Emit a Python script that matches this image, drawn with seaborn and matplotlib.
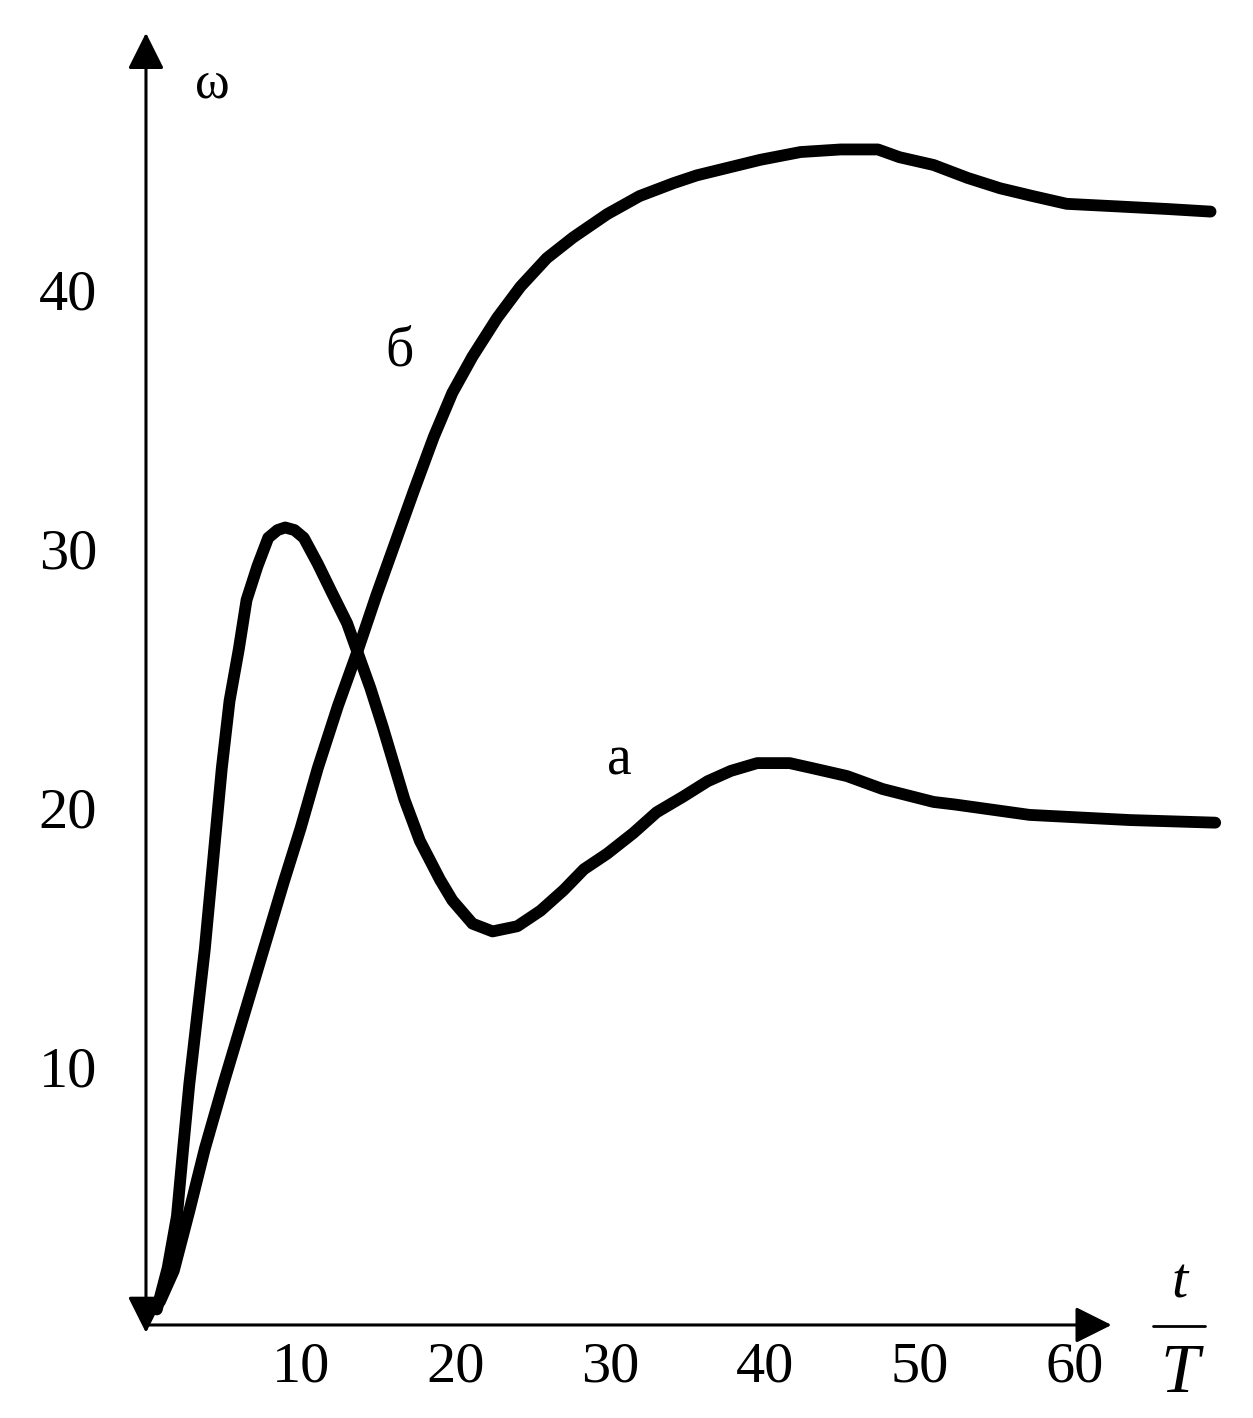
import numpy as np
import pandas as pd
import matplotlib.pyplot as plt
import seaborn as sns
from matplotlib.lines import Line2D

# curve "а" (oscillating)
t_a = [0.7, 1.4, 2.0, 2.4, 2.8, 3.3, 3.8, 4.9, 5.4, 6.0, 6.5, 7.2, 7.9, 8.5, 9.0, 9.6,
       10.2, 11.1, 12.0, 13.0, 13.6, 14.5, 15.3, 16.2, 16.7, 17.7, 19.0, 19.8, 21.1,
       22.4, 24.0, 25.5, 27.0, 28.3, 29.8, 31.5, 33.0, 34.7, 36.3, 37.8, 39.5, 41.6,
       43.1, 45.3, 47.6, 50.9, 52.3, 57.1, 63.6, 69.1]
w_a = [0.6, 2.2, 4.2, 6.8, 9.3, 11.9, 14.5, 21.5, 24.1, 26.1, 28.0, 29.3, 30.4, 30.7, 30.8, 30.7,
       30.4, 29.4, 28.3, 27.1, 26.1, 24.6, 23.1, 21.3, 20.3, 18.7, 17.2, 16.4, 15.5,
       15.2, 15.4, 16.0, 16.8, 17.6, 18.2, 19.0, 19.8, 20.4, 21.0, 21.4, 21.7, 21.7,
       21.5, 21.2, 20.7, 20.2, 20.1, 19.7, 19.5, 19.4]

# curve "б" (slow rise)
t_b = [0.9, 1.8, 2.8, 3.8, 5.0, 6.3, 7.6, 8.9, 10.0, 11.1, 12.4, 13.6, 14.9, 17.3,
       18.6, 19.8, 21.1, 22.7, 24.2, 25.9, 27.6, 29.8, 31.9, 34.1, 35.6, 39.7, 42.3,
       44.9, 47.3, 48.7, 50.9, 53.1, 55.2, 57.3, 59.5, 62.8, 66.0, 68.8]
w_b = [0.9, 2.1, 4.4, 6.8, 9.3, 11.9, 14.5, 17.1, 19.2, 21.5, 23.9, 25.9, 28.2, 32.2,
       34.3, 36.0, 37.4, 38.9, 40.1, 41.2, 42.0, 42.9, 43.6, 44.1, 44.4, 45.0, 45.3,
       45.4, 45.4, 45.1, 44.8, 44.3, 43.9, 43.6, 43.3, 43.2, 43.1, 43.0]

x_ticks = [10, 20, 30, 40, 50, 60]
y_ticks = [10, 20, 30, 40]

df = pd.concat([
    pd.DataFrame({"t": t_a, "w": w_a, "curve": "а"}),
    pd.DataFrame({"t": t_b, "w": w_b, "curve": "б"}),
])

sns.set_style("white")
plt.rcParams["font.family"] = ["Liberation Serif", "DejaVu Serif"]
plt.rcParams["text.color"] = "black"
plt.rcParams["xtick.color"] = "black"
plt.rcParams["ytick.color"] = "black"

fig = plt.figure(figsize=(12.53, 14.18), dpi=100)
ax = fig.add_axes([0.1165, 0.0656, 0.8731, 0.9203])

sns.lineplot(data=df, x="t", y="w", hue="curve", palette=["black", "black"],
             linewidth=8.5, legend=False, estimator=None, sort=False, ax=ax,
             solid_joinstyle="round")

ax.set_xlim(0, 70.7)
ax.set_ylim(0, 50.4)
for s in ax.spines.values():
    s.set_visible(False)

ax.set_xticks(x_ticks)
ax.set_yticks(y_ticks)
ax.tick_params(length=0, labelsize=42, labelcolor="black")
ax.tick_params(axis="x", pad=12)
ax.tick_params(axis="y", pad=35)
ax.set_xlabel("")
ax.set_ylabel("")

# axes with arrows
arr = dict(arrowstyle="-|>,head_length=0.8,head_width=0.4", mutation_scale=28,
           lw=2.2, color="black", shrinkA=0, shrinkB=0)
ax.annotate("", xy=(62.4, 0), xytext=(0, 0), arrowprops=arr, annotation_clip=False)
arr2 = dict(arr, arrowstyle="<|-|>,head_length=0.8,head_width=0.4")
ax.annotate("", xy=(0, 49.9), xytext=(0, -0.3), arrowprops=arr2, annotation_clip=False)

# labels
ax.text(4.3, 47.9, "ω", fontsize=38, ha="center", va="center")
ax.text(16.4, 37.6, "б", fontsize=40, ha="center", va="center")
ax.text(30.6, 21.8, "а", fontsize=40, ha="center", va="center")

fig.text(0.9417, 0.0952, "t", fontsize=42, style="italic", ha="center", va="center")
fig.text(0.9417, 0.0303, "T", fontsize=50, style="italic", ha="center", va="center")
fig.add_artist(Line2D([0.920, 0.962], [0.0649, 0.0649], transform=fig.transFigure,
                      color="black", lw=2))

fig.savefig("out.png", dpi=100)
